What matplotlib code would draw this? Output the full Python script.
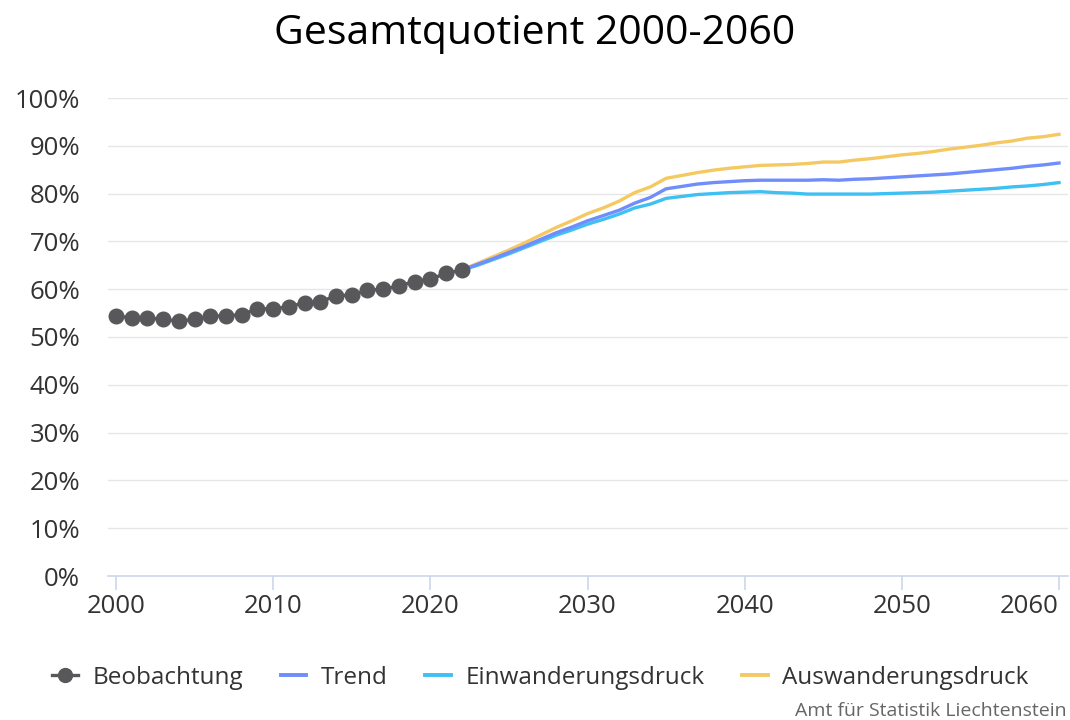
import matplotlib
matplotlib.use("Agg")
import matplotlib.pyplot as plt
from matplotlib.lines import Line2D
import numpy as np

plt.rcParams['font.family'] = ['Open Sans', 'DejaVu Sans']

obs_years = list(range(2000, 2023))
obs_values = [54.4, 54.0, 54.0, 53.7, 53.3, 53.7, 54.4, 54.4, 54.7, 55.9, 55.9, 56.3,
              57.2, 57.4, 58.6, 58.8, 59.8, 60.0, 60.7, 61.6, 62.1, 63.3, 64.0]

proj_years = list(range(2022, 2061))
trend = [64.0, 65.2, 66.4, 67.7, 69.0, 70.4, 71.8, 73.0, 74.3, 75.4, 76.5, 78.0, 79.2,
         81.0, 81.5, 82.0, 82.3, 82.5, 82.7, 82.8, 82.8, 82.8, 82.8, 82.9, 82.8, 83.0,
         83.1, 83.3, 83.5, 83.7, 83.9, 84.1, 84.4, 84.7, 85.0, 85.3, 85.7, 86.0, 86.4]
einwanderung = [64.0, 65.0, 66.2, 67.4, 68.7, 70.0, 71.3, 72.4, 73.6, 74.6, 75.7, 77.0, 77.8,
                79.0, 79.4, 79.8, 80.0, 80.2, 80.3, 80.4, 80.2, 80.1, 79.9, 79.9, 79.9, 79.9,
                79.9, 80.0, 80.1, 80.2, 80.3, 80.5, 80.7, 80.9, 81.1, 81.4, 81.6, 81.9, 82.3]
auswanderung = [64.0, 65.4, 66.8, 68.2, 69.7, 71.3, 72.9, 74.3, 75.8, 77.0, 78.4, 80.2, 81.4,
                83.2, 83.8, 84.4, 84.9, 85.3, 85.6, 85.9, 86.0, 86.1, 86.3, 86.6, 86.6, 87.0,
                87.3, 87.7, 88.1, 88.4, 88.8, 89.3, 89.7, 90.1, 90.6, 91.0, 91.6, 91.9, 92.4]

title = "Gesamtquotient 2000-2060"
labels = ["Beobachtung", "Trend", "Einwanderungsdruck", "Auswanderungsdruck"]
colors = ["#58585a", "#6f8dfc", "#3fc0f2", "#f5c962"]
credit = "Amt für Statistik Liechtenstein"
y_ticks = list(range(0, 101, 10))
x_ticks = list(range(2000, 2061, 10))

W, H = 1070, 720
fig = plt.figure(figsize=(W / 100, H / 100), dpi=100)
ax = fig.add_axes([108 / W, 1 - 576 / H, (1068 - 108) / W, (576 - 98) / H])

pxyr = (1059 - 116) / 60.0
ax.set_xlim(2000 - 8 / pxyr, 2000 + (1068 - 116) / pxyr)
ax.set_ylim(0, 100)

ax.plot(proj_years, einwanderung, color=colors[2], lw=2.4, zorder=3)
ax.plot(proj_years, trend, color=colors[1], lw=2.4, zorder=4)
ax.plot(proj_years, auswanderung, color=colors[3], lw=2.4, zorder=2)
ax.plot(obs_years, obs_values, color=colors[0], lw=2.4, marker='o', ms=10.5, zorder=5)

ax.set_yticks(y_ticks)
ax.set_yticklabels([f"{v}%" for v in y_ticks])
ax.set_xticks(x_ticks)
ax.grid(axis='y', color='#e6e6e6', lw=1)
ax.set_axisbelow(True)
for s in ['top', 'right', 'left']:
    ax.spines[s].set_visible(False)
ax.spines['bottom'].set_color('#ccd6eb')
ax.spines['bottom'].set_linewidth(1.2)
ax.tick_params(axis='y', length=0, labelsize=18.5, labelcolor='#333333', pad=20)
ax.tick_params(axis='x', length=10, color='#ccd6eb', width=1.2, labelsize=18.5,
               labelcolor='#333333', pad=3)
xl = ax.get_xticklabels()
xl[-1].set_horizontalalignment('right')
xl[-1].set_x(2060)

fig.text(0.5, 1 - 34 / H, title, ha='center', va='center', fontsize=29.5, color='#000000')

handles = [Line2D([0], [0], color=colors[0], lw=2.4, marker='o', ms=10),
           Line2D([0], [0], color=colors[1], lw=2.8),
           Line2D([0], [0], color=colors[2], lw=2.8),
           Line2D([0], [0], color=colors[3], lw=2.8)]
fig.legend(handles, labels, loc='center', bbox_to_anchor=(0.505, 1 - 678 / H), ncol=4,
           frameon=False, fontsize=17.5, handlelength=1.05, columnspacing=1.55,
           handletextpad=0.6, labelcolor='#333333')

fig.text(1 - 3 / W, 1 - 711 / H, credit, ha='right', va='center', fontsize=14, color='#666666')

fig.savefig("out.png", dpi=100)
